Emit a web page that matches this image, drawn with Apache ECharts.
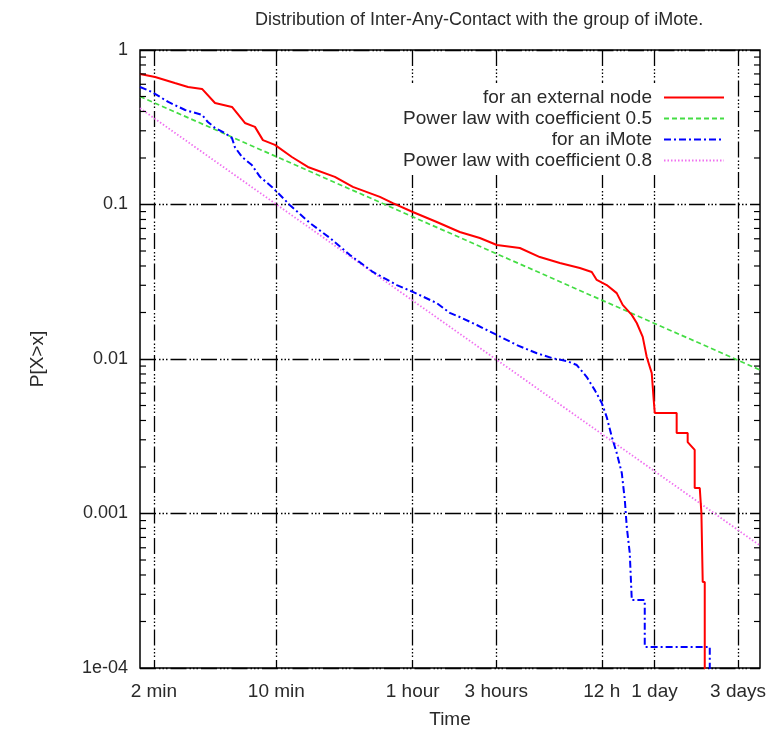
<!DOCTYPE html>
<html>
<head>
<meta charset="utf-8">
<title>Inter-Any-Contact distribution</title>
<script src="https://cdn.jsdelivr.net/npm/echarts@6/dist/echarts.min.js"></script>
<style>
  html, body { margin: 0; padding: 0; background: #fff; }
  #chart { width: 780px; height: 730px; }
</style>
</head>
<body>
<div id="chart"></div>
<script>
// time in seconds, probability P[X>x]
var extTime = [100, 122, 158, 188, 226, 268, 335, 397, 453, 503, 589, 736, 908, 1295, 1640, 2340, 2773, 3606, 4943, 6683, 8700, 10880, 14720, 19140, 24900, 32380, 37880, 40440, 46110, 52580, 56890, 64070, 68420, 73990, 78000, 83300, 85500, 86700, 115600, 115600, 133600, 133600, 146500, 146500, 156600, 160000, 162800, 167200, 167200];
var extProb = [0.70, 0.668, 0.611, 0.576, 0.56, 0.454, 0.428, 0.337, 0.318, 0.261, 0.243, 0.203, 0.175, 0.151, 0.130, 0.112, 0.102, 0.0894, 0.077, 0.0664, 0.0607, 0.0547, 0.0523, 0.0457, 0.0418, 0.0388, 0.0366, 0.0325, 0.0301, 0.0267, 0.0224, 0.0193, 0.0171, 0.0139, 0.0103, 0.0081, 0.00543, 0.00447, 0.00447, 0.00332, 0.00332, 0.0029, 0.00258, 0.00146, 0.00146, 0.00101, 0.00036, 0.00036, 0.00005];

var moteTime = [100, 117, 145, 181, 226, 244, 268, 305, 335, 348, 382, 435, 484, 566, 612, 718, 933, 1213, 1578, 2133, 2924, 3606, 4943, 5862, 6683, 8360, 10880, 14160, 18410, 22710, 27300, 31120, 35480, 39430, 43200, 46100, 49300, 52600, 56200, 58500, 60000, 62400, 64100, 76000, 76000, 178600, 178600];
var moteProb = [0.576, 0.535, 0.461, 0.409, 0.38, 0.342, 0.313, 0.29, 0.269, 0.235, 0.203, 0.18, 0.151, 0.13, 0.119, 0.099, 0.0759, 0.0607, 0.0471, 0.0366, 0.0301, 0.0272, 0.023, 0.0199, 0.0187, 0.0166, 0.0143, 0.0123, 0.0109, 0.0101, 0.0097, 0.00914, 0.00764, 0.00629, 0.00519, 0.00421, 0.00313, 0.00246, 0.00183, 0.00122, 0.000818, 0.000555, 0.000275, 0.000275, 0.000137, 0.000137, 0.00005];

// power law reference lines, end points
var law05Time = [100, 345600];
var law05Prob = [0.5, 0.0085];
var law08Time = [100, 345600];
var law08Prob = [0.42, 0.00062];

var xTickValues = [120, 600, 3600, 10800, 43200, 86400, 259200];
var xTickLabels = ['2 min', '10 min', '1 hour', '3 hours', '12 h', '1 day', '3 days'];
var yTickLabels = ['1e-04', '0.001', '0.01', '0.1', '1'];
var yDecades = [0.0001, 0.001, 0.01, 0.1];
var yMinorSteps = [2, 3, 4, 5, 6, 7, 8, 9];

function pairs(xs, ys) {
  return xs.map(function (x, i) { return [x, ys[i]]; });
}

var minorData = [];
yDecades.forEach(function (d) {
  yMinorSteps.forEach(function (m) { minorData.push([1000, d * m]); });
});

var font = "'Liberation Sans', Arial, sans-serif";
var txt = '#2a2a2a';
var gridDash = [16, 3, 1.5, 2, 1.5, 2, 1.5, 3];

var chart = echarts.init(document.getElementById('chart'));
chart.setOption({
  animation: false,
  backgroundColor: '#fff',
  textStyle: { fontFamily: font },
  title: {
    text: 'Distribution of Inter-Any-Contact with the group of iMote.',
    left: 250,
    top: 6,
    textStyle: { fontFamily: font, fontSize: 18, fontWeight: 'normal', color: txt }
  },
  grid: {
    left: 140, right: 20, top: 50, bottom: 62,
    outerBoundsMode: 'none',
    containLabel: false,
    show: true, borderColor: '#000', borderWidth: 1.5, backgroundColor: 'transparent'
  },
  legend: {
    orient: 'vertical',
    right: 47,
    top: 83,
    align: 'right',
    itemWidth: 60,
    itemHeight: 14,
    itemGap: 0,
    padding: [4, 8, 4, 4],
    backgroundColor: '#fff',
    itemStyle: { opacity: 0 },
    data: ['for an external node', 'Power law with coefficient 0.5', 'for an iMote', 'Power law with coefficient 0.8'],
    textStyle: { fontFamily: font, fontSize: 19, lineHeight: 21, color: txt, padding: [0, 7, 0, 0] }
  },
  xAxis: {
    type: 'log',
    min: 100,
    max: 345600,
    name: 'Time',
    nameLocation: 'middle',
    nameGap: 42,
    nameTextStyle: { fontFamily: font, fontSize: 19, color: txt },
    axisLine: { show: false },
    axisTick: { show: true, inside: true, length: 8, customValues: xTickValues, lineStyle: { color: '#000' } },
    axisLabel: {
      customValues: xTickValues,
      margin: 14,
      fontFamily: font,
      fontSize: 19,
      color: txt,
      formatter: function (v) {
        for (var i = 0; i < xTickValues.length; i++) {
          if (Math.abs(v - xTickValues[i]) / xTickValues[i] < 1e-3) return xTickLabels[i];
        }
        return '';
      }
    },
    splitLine: { show: true, lineStyle: { color: '#000', width: 1.3, type: gridDash } },
    minorTick: { show: false },
    minorSplitLine: { show: false }
  },
  yAxis: {
    type: 'log',
    min: 0.0001,
    max: 1,
    name: 'P[X>x]',
    nameLocation: 'middle',
    nameGap: 93,
    nameTextStyle: { fontFamily: font, fontSize: 19, color: txt },
    axisLine: { show: false },
    axisTick: { show: true, inside: true, length: 9, lineStyle: { color: '#000' } },
    axisLabel: {
      margin: 12,
      fontFamily: font,
      fontSize: 18,
      color: txt,
      formatter: function (v) {
        var k = Math.round(Math.log10(v)) + 4;
        return yTickLabels[k] || '';
      }
    },
    splitLine: { show: true, lineStyle: { color: '#000', width: 1.3, type: gridDash } }
  },
  series: [
    {
      name: 'for an external node',
      type: 'line',
      data: pairs(extTime, extProb),
      showSymbol: false,
      symbol: 'none',
      clip: true,
      z: 5,
      lineStyle: { color: '#ff0000', width: 2 },
      itemStyle: { color: '#ff0000' }
    },
    {
      name: 'Power law with coefficient 0.5',
      type: 'line',
      data: pairs(law05Time, law05Prob),
      showSymbol: false,
      symbol: 'none',
      clip: true,
      z: 3,
      lineStyle: { color: '#44dd44', width: 1.7, type: [5, 3] },
      itemStyle: { color: '#44dd44' }
    },
    {
      name: 'for an iMote',
      type: 'line',
      data: pairs(moteTime, moteProb),
      showSymbol: false,
      symbol: 'none',
      clip: true,
      z: 4,
      lineStyle: { color: '#0000ff', width: 2, type: [7, 3, 2, 3] },
      itemStyle: { color: '#0000ff' }
    },
    {
      name: 'Power law with coefficient 0.8',
      type: 'line',
      data: pairs(law08Time, law08Prob),
      showSymbol: false,
      symbol: 'none',
      clip: true,
      z: 3,
      lineStyle: { color: '#f070f0', width: 1.8, type: [1.5, 2] },
      itemStyle: { color: '#f070f0' }
    },
    {
      name: 'minor ticks',
      type: 'custom',
      silent: true,
      data: minorData,
      z: 6,
      renderItem: function (params, api) {
        var cs = params.coordSys;
        var y = api.coord([api.value(0), api.value(1)])[1];
        var st = { stroke: '#000', lineWidth: 1.2 };
        return {
          type: 'group',
          children: [
            { type: 'line', shape: { x1: cs.x, y1: y, x2: cs.x + 6, y2: y }, style: st },
            { type: 'line', shape: { x1: cs.x + cs.width - 6, y1: y, x2: cs.x + cs.width, y2: y }, style: st }
          ]
        };
      }
    }
  ]
});
</script>
</body>
</html>
